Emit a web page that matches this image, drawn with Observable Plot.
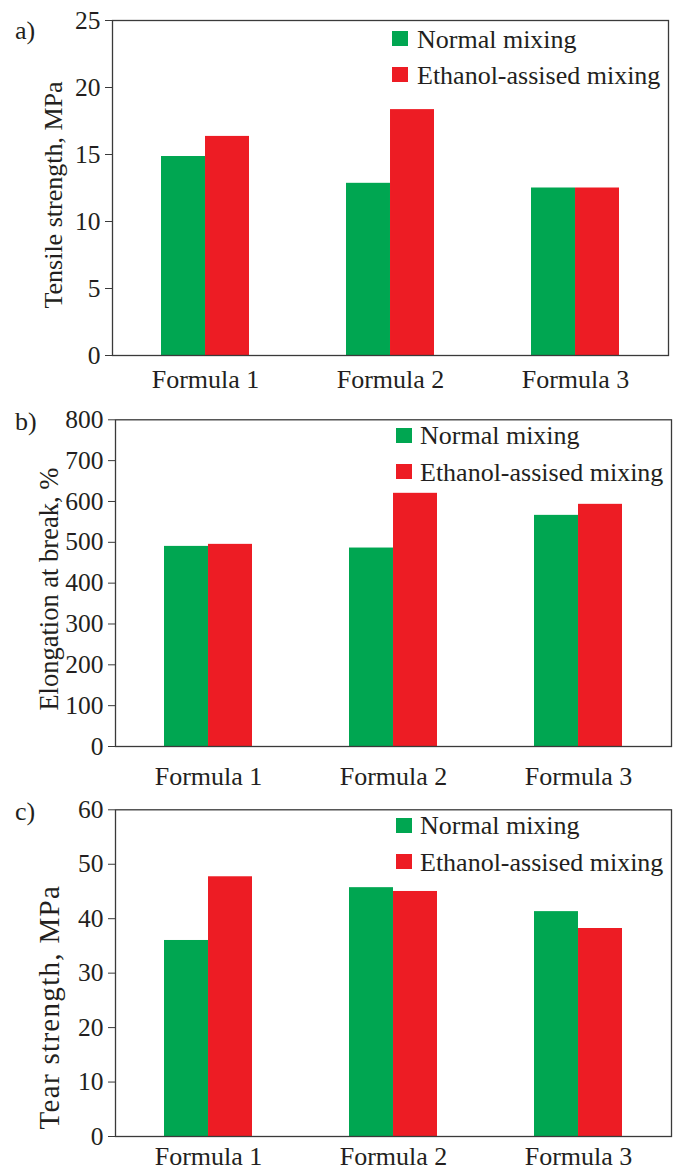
<!DOCTYPE html>
<html><head><meta charset="utf-8">
<script src="https://cdn.jsdelivr.net/npm/d3@7"></script>
<script src="https://cdn.jsdelivr.net/npm/@observablehq/plot@0.6"></script>
<style>
body{margin:0;background:#fff;}
#wrap{position:relative;width:681px;height:1171px;overflow:hidden;font-family:"Liberation Serif",serif;color:#231f20;background:#fff;}
.panel{position:absolute;left:0;}
.lab{position:absolute;font-size:26px;line-height:26px;white-space:nowrap;color:#231f20;}
.sw{position:absolute;width:16px;height:15px;}
</style></head><body><div id="wrap"></div>
<script>
// ---- data ----
const formulas = ["Formula 1", "Formula 2", "Formula 3"];
const seriesNames = ["Normal mixing", "Ethanol-assised mixing"];
const seriesColors = ["#00a651", "#ed1c24"];

const tensileNormal  = [14.85, 12.85, 12.5];
const tensileEthanol = [16.35, 18.35, 12.5];
const tensileTicks   = [0, 5, 10, 15, 20, 25];

const elongNormal  = [490, 486, 566];
const elongEthanol = [495, 620, 593];
const elongTicks   = [0, 100, 200, 300, 400, 500, 600, 700, 800];

const tearNormal  = [36.0, 45.7, 41.3];
const tearEthanol = [47.7, 45.0, 38.2];
const tearTicks   = [0, 10, 20, 30, 40, 50, 60];

const yLabels = ["Tensile strength, MPa", "Elongation at break, %", "Tear strength, MPa"];
const panelLetters = ["a)", "b)", "c)"];

// ---- layout ----
const W = 681;
const panels = [
  {top: 0, height: 395, mt: 20, mb: 40, ml: 112, mr: 13, normal: tensileNormal, ethanol: tensileEthanol, ticks: tensileTicks,
   label: yLabels[0], labelDx: -59, labelDy: 7, labelSize: 26, labelSpacing: 0, xPad: 14,
   letter: panelLetters[0], letterBase: 40, swX: 392, txX: 417, bases: [48.3, 84.5]},
  {top: 395, height: 390, mt: 24.3, mb: 39, ml: 115, mr: 10, normal: elongNormal, ethanol: elongEthanol, ticks: elongTicks,
   label: yLabels[1], labelDx: -65.5, labelDy: 6, labelSize: 26.5, labelSpacing: 0, xPad: 20,
   letter: panelLetters[1], letterBase: 431, swX: 396, txX: 420, bases: [445, 481.7]},
  {top: 785, height: 386, mt: 24.3, mb: 35, ml: 115, mr: 10, normal: tearNormal, ethanol: tearEthanol, ticks: tearTicks,
   label: yLabels[2], labelDx: -66, labelDy: 34, labelSize: 29, labelSpacing: 1.3, xPad: 10,
   letter: panelLetters[2], letterBase: 821, swX: 396, txX: 420, bases: [835, 871.7]}
];

const wrap = document.getElementById("wrap");

panels.forEach(p => {
  const rows = formulas.map((f, i) => ({formula: f, normal: p.normal[i], ethanol: p.ethanol[i]}));
  const plotW = W - p.ml - p.mr;
  const step = plotW / formulas.length;
  const padInner = 0.525;
  const half = step * (1 - padInner) / 2;
  const chart = Plot.plot({
    width: W, height: p.height,
    marginTop: p.mt, marginBottom: p.mb, marginLeft: p.ml, marginRight: p.mr,
    style: {fontFamily: "'Liberation Serif', serif", fontSize: "25.5px", color: "#231f20", background: "transparent", overflow: "visible"},
    x: {domain: formulas, paddingInner: padInner, paddingOuter: padInner / 2},
    y: {domain: [p.ticks[0], p.ticks[p.ticks.length - 1]]},
    marks: [
      Plot.barY(rows, {x: "formula", y: "normal", fill: seriesColors[0], insetRight: half}),
      Plot.barY(rows, {x: "formula", y: "ethanol", fill: seriesColors[1], insetLeft: half}),
      Plot.frame({stroke: "#3a3a3a", strokeWidth: 1.3}),
      Plot.axisY({ticks: p.ticks, tickSize: 7, tickPadding: 5, label: null, stroke: "#3a3a3a", fill: "#231f20"}),
      Plot.axisX({tickSize: 0, tickPadding: p.xPad, label: null, fontSize: 26, fill: "#231f20"}),
      Plot.text([p.label], {frameAnchor: "left", rotate: -90, textAnchor: "middle", lineAnchor: "middle",
        dx: p.labelDx, dy: p.labelDy, fontSize: p.labelSize, fill: "#231f20"})
    ]
  });
  chart.classList.add("panel");
  chart.style.top = p.top + "px";
  chart.querySelectorAll("text").forEach(t => {
    if (t.textContent === p.label && p.labelSpacing) t.setAttribute("letter-spacing", p.labelSpacing);
  });
  wrap.appendChild(chart);

  // panel letter
  const L = document.createElement("div");
  L.className = "lab";
  L.textContent = p.letter;
  L.style.left = "15px";
  L.style.top = (p.letterBase - 21.8) + "px";
  wrap.appendChild(L);

  // legend
  seriesNames.forEach((name, i) => {
    const sw = document.createElement("div");
    sw.className = "sw";
    sw.style.background = seriesColors[i];
    sw.style.left = p.swX + "px";
    sw.style.top = (p.bases[i] - 17.5) + "px";
    wrap.appendChild(sw);
    const t = document.createElement("div");
    t.className = "lab";
    t.textContent = name;
    t.style.left = p.txX + "px";
    t.style.top = (p.bases[i] - 21.8) + "px";
    wrap.appendChild(t);
  });
});
</script>
</body></html>
